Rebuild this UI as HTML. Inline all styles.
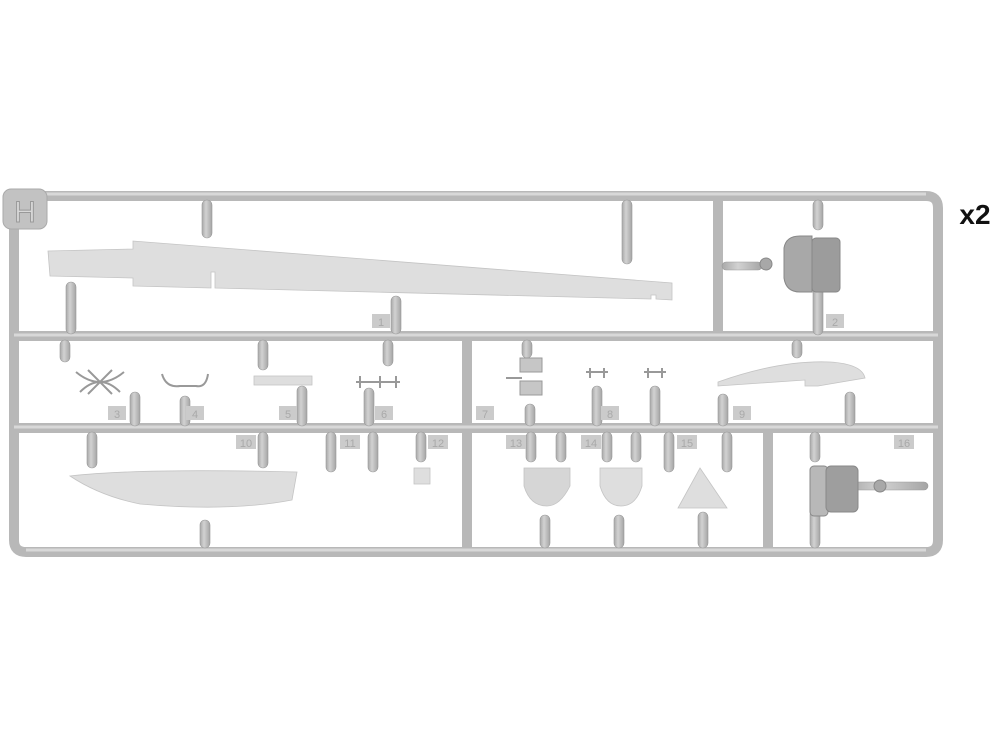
<!DOCTYPE html>
<html><head><style>body{margin:0;background:#fff}svg{display:block}</style></head><body>
<svg width="1000" height="750" viewBox="0 0 1000 750" xmlns="http://www.w3.org/2000/svg" font-family="Liberation Sans, sans-serif">
<defs>
<linearGradient id="gv" x1="0" x2="1" y1="0" y2="0"><stop offset="0" stop-color="#a9a9a9"/><stop offset=".4" stop-color="#d2d2d2"/><stop offset="1" stop-color="#a5a5a5"/></linearGradient>
</defs>
<g fill="none" stroke="#b8b8b8" stroke-width="10" stroke-linecap="round">
<path d="M14 210 L14 540 Q14 552 26 552 L926 552 Q938 552 938 540 L938 208 Q938 196 926 196 L30 196"/>
<path d="M14 336 H938 M14 428 H938 M718 196 V336 M467 336 V552 M768 428 V552"/>
</g>
<g fill="none" stroke="#d8d8d8" stroke-width="3">
<path d="M30 194 H926 M14 335 H938 M14 427 H938 M26 550 H926"/>
</g>
<rect x="3" y="189" width="44" height="40" rx="8" fill="#c2c2c2" stroke="#aaa"/>
<text x="25" y="222" font-size="30" text-anchor="middle" fill="#d8d8d8" stroke="#999" stroke-width="1">H</text>
<text x="975" y="224" font-size="28" font-weight="bold" text-anchor="middle" fill="#111">x2</text>
<g fill="url(#gv)" stroke="#999" stroke-width=".6">
<rect x="202" y="200" width="10" height="38" rx="5"/>
<rect x="622" y="200" width="10" height="64" rx="5"/>
<rect x="66" y="282" width="10" height="52" rx="5"/>
<rect x="391" y="296" width="10" height="38" rx="5"/>
<rect x="813" y="200" width="10" height="30" rx="5"/>
<rect x="813" y="285" width="10" height="50" rx="5"/>
<rect x="722" y="262" width="40" height="8" rx="4"/>
<rect x="60" y="340" width="10" height="22" rx="5"/>
<rect x="258" y="340" width="10" height="30" rx="5"/>
<rect x="383" y="340" width="10" height="26" rx="5"/>
<rect x="522" y="340" width="10" height="18" rx="5"/>
<rect x="792" y="340" width="10" height="18" rx="5"/>
<rect x="130" y="392" width="10" height="34" rx="5"/>
<rect x="180" y="396" width="10" height="30" rx="5"/>
<rect x="297" y="386" width="10" height="40" rx="5"/>
<rect x="364" y="388" width="10" height="38" rx="5"/>
<rect x="525" y="404" width="10" height="22" rx="5"/>
<rect x="592" y="386" width="10" height="40" rx="5"/>
<rect x="650" y="386" width="10" height="40" rx="5"/>
<rect x="718" y="394" width="10" height="32" rx="5"/>
<rect x="845" y="392" width="10" height="34" rx="5"/>
<rect x="87" y="432" width="10" height="36" rx="5"/>
<rect x="258" y="432" width="10" height="36" rx="5"/>
<rect x="326" y="432" width="10" height="40" rx="5"/>
<rect x="368" y="432" width="10" height="40" rx="5"/>
<rect x="416" y="432" width="10" height="30" rx="5"/>
<rect x="526" y="432" width="10" height="30" rx="5"/>
<rect x="556" y="432" width="10" height="30" rx="5"/>
<rect x="602" y="432" width="10" height="30" rx="5"/>
<rect x="631" y="432" width="10" height="30" rx="5"/>
<rect x="664" y="432" width="10" height="40" rx="5"/>
<rect x="722" y="432" width="10" height="40" rx="5"/>
<rect x="810" y="432" width="10" height="30" rx="5"/>
<rect x="810" y="510" width="10" height="38" rx="5"/>
<rect x="200" y="520" width="10" height="28" rx="5"/>
<rect x="540" y="515" width="10" height="33" rx="5"/>
<rect x="614" y="515" width="10" height="33" rx="5"/>
<rect x="698" y="512" width="10" height="36" rx="5"/>
<rect x="848" y="482" width="80" height="8" rx="4"/>
</g>
<g fill="#dedede" stroke="#c4c4c4" stroke-width=".8">
<path d="M48 251 L133 249 L133 241 L672 283 L672 300 L656 299 L656 295 L651 295 L651 299 L215 288 L215 272 L211 272 L211 288 L133 286 L133 278 L50 276 Z"/>
<path d="M70 476 Q140 468 297 472 L292 500 Q230 512 140 504 Q100 496 70 476 Z"/>
<path d="M718 382 Q780 360 830 362 Q862 364 865 378 L818 386 L805 386 L805 380 L718 386 Z"/>
<path d="M524 468 H570 V486 Q560 506 547 506 Q530 506 524 486 Z" fill="#d6d6d6"/>
<path d="M600 468 H642 V486 Q636 506 621 506 Q606 506 600 486 Z"/>
<path d="M700 468 L727 508 H678 Z"/>
<rect x="414" y="468" width="16" height="16"/>
<rect x="254" y="376" width="58" height="9"/>
</g>
<g fill="#a8a8a8" stroke="#888">
<path d="M784 248 Q786 236 800 236 H812 V292 H800 Q786 292 784 278 Z"/>
<rect x="812" y="238" width="28" height="54" rx="4" fill="#9c9c9c"/>
<circle cx="766" cy="264" r="6"/>
<rect x="810" y="466" width="18" height="50" rx="4" fill="#b8b8b8"/>
<rect x="826" y="466" width="32" height="46" rx="5" fill="#9e9e9e"/>
<circle cx="880" cy="486" r="6"/>
</g>
<g fill="none" stroke="#999" stroke-width="2">
<path d="M76 372 Q100 392 124 372 M80 392 Q100 372 120 392 M88 370 L112 394 M112 370 L88 394"/>
<path d="M162 374 Q166 388 180 386 H196 Q206 388 208 374"/>
<path d="M356 382 H400 M360 376 V388 M380 376 V388 M396 376 V388"/>
<path d="M586 372 H608 M590 368 V378 M604 368 V378 M644 372 H666 M648 368 V378 M662 368 V378"/>
<path d="M506 378 H522"/>
</g>
<g fill="#c6c6c6" stroke="#999"><rect x="520" y="358" width="22" height="14"/><rect x="520" y="381" width="22" height="14"/></g>
<g fill="#cbcbcb">
<rect x="372" y="314" width="18" height="14"/><rect x="826" y="314" width="18" height="14"/>
<rect x="108" y="406" width="18" height="14"/><rect x="186" y="406" width="18" height="14"/><rect x="279" y="406" width="18" height="14"/><rect x="375" y="406" width="18" height="14"/>
<rect x="476" y="406" width="18" height="14"/><rect x="601" y="406" width="18" height="14"/><rect x="733" y="406" width="18" height="14"/>
<rect x="236" y="435" width="20" height="14"/><rect x="340" y="435" width="20" height="14"/><rect x="428" y="435" width="20" height="14"/>
<rect x="506" y="435" width="20" height="14"/><rect x="581" y="435" width="20" height="14"/><rect x="677" y="435" width="20" height="14"/><rect x="894" y="435" width="20" height="14"/>
</g>
<g fill="#a9a9a9" font-size="11" text-anchor="middle">
<text x="381" y="326">1</text><text x="835" y="326">2</text>
<text x="117" y="418">3</text><text x="195" y="418">4</text><text x="288" y="418">5</text><text x="384" y="418">6</text>
<text x="485" y="418">7</text><text x="610" y="418">8</text><text x="742" y="418">9</text>
<text x="246" y="447">10</text><text x="350" y="447">11</text><text x="438" y="447">12</text>
<text x="516" y="447">13</text><text x="591" y="447">14</text><text x="687" y="447">15</text><text x="904" y="447">16</text>
</g>
</svg>
</body></html>
